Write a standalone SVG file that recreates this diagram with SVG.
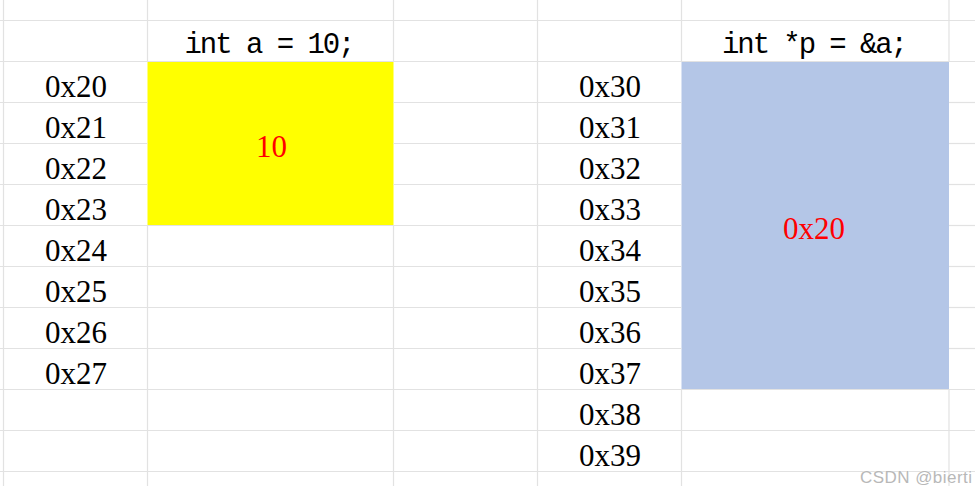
<svg xmlns="http://www.w3.org/2000/svg" width="975" height="486" viewBox="0 0 975 486">
  <style>
    .grid line { stroke: #e2e2e2; stroke-width: 1.2; }
    .addr { font-family: "Liberation Serif", "Times New Roman", serif; font-size: 31px; fill: #000; text-anchor: middle; }
    .code { font-family: "Liberation Mono", "Courier New", monospace; font-size: 29px; fill: #000; text-anchor: middle; }
    .val { font-family: "Liberation Serif", "Times New Roman", serif; font-size: 31px; fill: #ff0000; text-anchor: middle; }
    .wm { font-family: "Liberation Sans", Arial, sans-serif; font-size: 17px; fill: #b8b8b8; stroke: #ffffff; stroke-width: 0.6; paint-order: stroke; }
  </style>
  <rect x="0" y="0" width="975" height="486" fill="#ffffff"/>

  <g id="fills">
    <rect id="cell-a" x="147.5" y="61.5" width="246" height="164" fill="#ffff00"/>
    <rect id="cell-p" x="681.5" y="61.5" width="267.5" height="328" fill="#b4c6e7"/>
  </g>

  <g id="grid" class="grid">
    <line x1="3.5" y1="0" x2="3.5" y2="486"/>
    <line x1="147.5" y1="0" x2="147.5" y2="61.5"/>
    <line x1="147.5" y1="225.5" x2="147.5" y2="486"/>
    <line x1="393.5" y1="0" x2="393.5" y2="61.5"/>
    <line x1="393.5" y1="225.5" x2="393.5" y2="486"/>
    <line x1="537.5" y1="0" x2="537.5" y2="486"/>
    <line x1="681.5" y1="0" x2="681.5" y2="61.5"/>
    <line x1="681.5" y1="389.5" x2="681.5" y2="486"/>
    <line x1="949" y1="0" x2="949" y2="61.5"/>
    <line x1="949" y1="389.5" x2="949" y2="486"/>

    <line x1="0" y1="20.5" x2="975" y2="20.5"/>
    <line x1="0" y1="61.5" x2="975" y2="61.5"/>
    <line x1="0" y1="102.5" x2="147.5" y2="102.5"/>
    <line x1="393.5" y1="102.5" x2="681.5" y2="102.5"/>
    <line x1="949" y1="102.5" x2="975" y2="102.5"/>
    <line x1="0" y1="143.5" x2="147.5" y2="143.5"/>
    <line x1="393.5" y1="143.5" x2="681.5" y2="143.5"/>
    <line x1="949" y1="143.5" x2="975" y2="143.5"/>
    <line x1="0" y1="184.5" x2="147.5" y2="184.5"/>
    <line x1="393.5" y1="184.5" x2="681.5" y2="184.5"/>
    <line x1="949" y1="184.5" x2="975" y2="184.5"/>
    <line x1="0" y1="225.5" x2="681.5" y2="225.5"/>
    <line x1="949" y1="225.5" x2="975" y2="225.5"/>
    <line x1="0" y1="266.5" x2="681.5" y2="266.5"/>
    <line x1="949" y1="266.5" x2="975" y2="266.5"/>
    <line x1="0" y1="307.5" x2="681.5" y2="307.5"/>
    <line x1="949" y1="307.5" x2="975" y2="307.5"/>
    <line x1="0" y1="348.5" x2="681.5" y2="348.5"/>
    <line x1="949" y1="348.5" x2="975" y2="348.5"/>
    <line x1="0" y1="389.5" x2="975" y2="389.5"/>
    <line x1="0" y1="430.5" x2="975" y2="430.5"/>
    <line x1="0" y1="471.5" x2="975" y2="471.5"/>
  </g>

  <g id="var-a">
    <text class="code" x="270" y="53" textLength="171" xml:space="preserve">int a = 10;</text>
    <text class="val" x="271.5" y="157">10</text>
    <text class="addr" x="76" y="96.5">0x20</text>
    <text class="addr" x="76" y="137.5">0x21</text>
    <text class="addr" x="76" y="178.5">0x22</text>
    <text class="addr" x="76" y="219.5">0x23</text>
    <text class="addr" x="76" y="260.5">0x24</text>
    <text class="addr" x="76" y="301.5">0x25</text>
    <text class="addr" x="76" y="342.5">0x26</text>
    <text class="addr" x="76" y="383.5">0x27</text>
  </g>

  <g id="var-p">
    <text class="code" x="815" y="53" textLength="186" xml:space="preserve">int *p = &amp;a;</text>
    <text class="val" x="814" y="239">0x20</text>
    <text class="addr" x="610" y="96.5">0x30</text>
    <text class="addr" x="610" y="137.5">0x31</text>
    <text class="addr" x="610" y="178.5">0x32</text>
    <text class="addr" x="610" y="219.5">0x33</text>
    <text class="addr" x="610" y="260.5">0x34</text>
    <text class="addr" x="610" y="301.5">0x35</text>
    <text class="addr" x="610" y="342.5">0x36</text>
    <text class="addr" x="610" y="383.5">0x37</text>
    <text class="addr" x="610" y="424.5">0x38</text>
    <text class="addr" x="610" y="465.5">0x39</text>
  </g>

  <g id="connectors"/>

  <text class="wm" x="860" y="483" textLength="112">CSDN @bierti</text>
</svg>
